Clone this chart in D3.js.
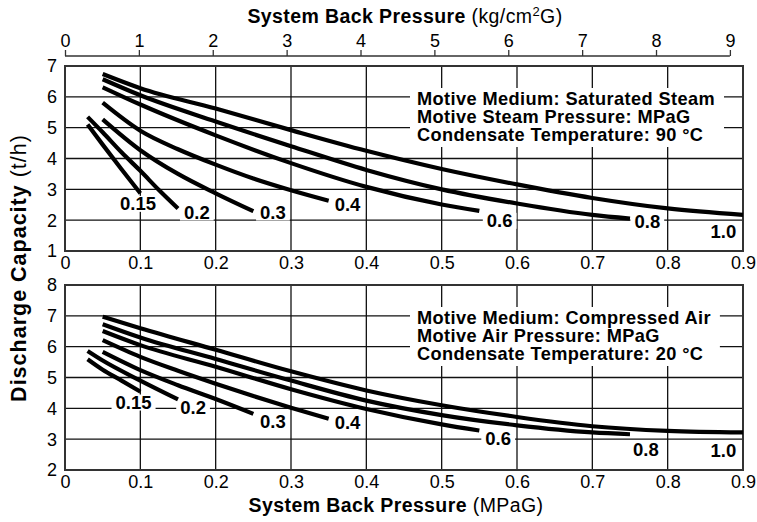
<!DOCTYPE html>
<html>
<head>
<meta charset="utf-8">
<script src="https://cdn.jsdelivr.net/npm/d3@7"></script>
<style>
  body { margin: 0; background: #fff; }
  svg { display: block; font-family: "Liberation Sans", Arial, sans-serif; }
</style>
</head>
<body>
<svg id="chart" width="757" height="522"></svg>
<script>
const width = 757;
const height = 522;

// back pressure ticks (MPaG) and the kg/cm2G ticks on top
const backPressureTicks = [0, 0.1, 0.2, 0.3, 0.4, 0.5, 0.6, 0.7, 0.8, 0.9];
const kgTicks = [0, 1, 2, 3, 4, 5, 6, 7, 8, 9];
const kgPerMPa = 1 / 0.0980665;

const motivePressures = ["0.15", "0.2", "0.3", "0.4", "0.6", "0.8", "1.0"];

// saturated steam, [back pressure MPaG, capacity t/h]
const steam015 = [[0.03, 5.10], [0.05, 4.45], [0.075, 3.65], [0.10, 2.87]];
const steam02 = [[0.03, 5.35], [0.05, 4.85], [0.075, 4.20], [0.10, 3.60], [0.125, 2.97], [0.15, 2.38]];
const steam03 = [[0.05, 5.27], [0.10, 4.27], [0.15, 3.50], [0.20, 2.87], [0.25, 2.29]];
const steam04 = [[0.05, 5.81], [0.10, 4.90], [0.15, 4.30], [0.20, 3.80], [0.25, 3.35], [0.30, 2.97], [0.35, 2.63]];
const steam06 = [[0.05, 6.31], [0.10, 5.75], [0.20, 4.75], [0.30, 3.85], [0.40, 3.08], [0.50, 2.51], [0.55, 2.30]];
const steam08 = [[0.05, 6.57], [0.10, 6.05], [0.20, 5.20], [0.30, 4.40], [0.40, 3.63], [0.50, 3.00], [0.60, 2.54], [0.70, 2.17], [0.75, 2.05]];
const steam10 = [[0.05, 6.74], [0.10, 6.28], [0.20, 5.62], [0.30, 4.92], [0.40, 4.25], [0.50, 3.66], [0.60, 3.16], [0.70, 2.72], [0.80, 2.38], [0.90, 2.17]];
// where the pressure labels sit (centre, data units)
const steamLabelAt = [[0.097, 2.55], [0.175, 2.27], [0.276, 2.27], [0.375, 2.52], [0.577, 2.0], [0.773, 1.97], [0.874, 1.64]];
const steamInfo = ["Motive Medium: Saturated Steam", "Motive Steam Pressure: MPaG", "Condensate Temperature: 90 \u00B0C"];

// compressed air
const air015 = [[0.03, 5.59], [0.05, 5.25], [0.075, 4.90], [0.10, 4.54]];
const air02 = [[0.03, 5.86], [0.05, 5.55], [0.10, 4.90], [0.15, 4.29]];
const air03 = [[0.05, 5.83], [0.10, 5.24], [0.15, 4.75], [0.20, 4.30], [0.25, 3.82]];
const air04 = [[0.05, 6.21], [0.10, 5.67], [0.15, 5.22], [0.20, 4.80], [0.25, 4.40], [0.30, 4.02], [0.35, 3.66]];
const air06 = [[0.05, 6.51], [0.10, 6.05], [0.20, 5.35], [0.30, 4.62], [0.40, 3.98], [0.50, 3.48], [0.55, 3.28]];
const air08 = [[0.05, 6.73], [0.10, 6.30], [0.20, 5.60], [0.30, 4.90], [0.40, 4.25], [0.50, 3.78], [0.60, 3.45], [0.70, 3.22], [0.75, 3.16]];
const air10 = [[0.05, 6.97], [0.10, 6.60], [0.20, 5.90], [0.30, 5.20], [0.40, 4.58], [0.50, 4.10], [0.60, 3.72], [0.70, 3.42], [0.80, 3.27], [0.90, 3.22]];
const airLabelAt = [[0.091, 4.21], [0.170, 4.03], [0.276, 3.59], [0.375, 3.56], [0.575, 3.02], [0.771, 2.66], [0.874, 2.64]];
const airInfo = ["Motive Medium: Compressed Air", "Motive Air Pressure: MPaG", "Condensate Temperature: 20 \u00B0C"];

const steamTicks = [1, 2, 3, 4, 5, 6, 7];
const airTicks = [2, 3, 4, 5, 6, 7, 8];

const svg = d3.select("#chart");
const x = d3.scaleLinear().domain([0, 0.9]).range([65, 743]);
const xKg = d3.scaleLinear().domain([0, 0.9 * kgPerMPa]).range([65, 743]);

const line = (y) => d3.line()
  .x(d => x(d[0]))
  .y(d => y(d[1]))
  .curve(d3.curveMonotoneX);

function drawPanel(top, bottom, yTicks, curves, labelAt, info) {
  const y = d3.scaleLinear().domain(d3.extent(yTicks)).range([bottom, top]);
  const g = svg.append("g");

  // grid
  g.append("g").selectAll("line")
    .data(backPressureTicks.slice(1, -1))
    .join("line")
      .attr("x1", d => x(d)).attr("x2", d => x(d))
      .attr("y1", top).attr("y2", bottom)
      .attr("stroke", "#111").attr("stroke-width", 1.3);
  g.append("g").selectAll("line")
    .data(yTicks.slice(1, -1))
    .join("line")
      .attr("x1", x(0)).attr("x2", x(0.9))
      .attr("y1", d => y(d)).attr("y2", d => y(d))
      .attr("stroke", "#111").attr("stroke-width", 1.3);

  // y tick labels
  g.append("g").selectAll("text")
    .data(yTicks)
    .join("text")
      .attr("x", 57).attr("y", d => y(d))
      .attr("dy", "0.36em")
      .attr("text-anchor", "end")
      .attr("font-size", 18)
      .text(d => d);

  // x tick labels
  const xAxis = d3.axisBottom(x)
    .tickValues(backPressureTicks)
    .tickSize(0)
    .tickPadding(5)
    .tickFormat(d => d === 0 ? "0" : d3.format(".1f")(d));
  const ax = g.append("g")
    .attr("transform", `translate(0,${bottom})`)
    .call(xAxis);
  ax.select(".domain").remove();
  ax.selectAll("text").attr("font-size", 18).attr("font-family", null).attr("fill", "#000");

  // info box
  const infoG = g.append("g");
  const infoText = infoG.append("text")
    .attr("font-size", 18.2)
    .attr("font-weight", "bold")
    .attr("letter-spacing", 0.4);
  infoText.selectAll("tspan")
    .data(info)
    .join("tspan")
      .attr("x", 417)
      .attr("y", (d, i) => top + 39 + i * 18)
      .text(d => d);
  const ib = infoText.node().getBBox();
  infoG.insert("rect", () => infoText.node())
    .attr("x", ib.x - 7).attr("y", ib.y - 1)
    .attr("width", ib.width + 16).attr("height", ib.height + 3)
    .attr("fill", "#fff");

  // pressure labels with white backing
  const labels = g.append("g");
  motivePressures.forEach((p, i) => {
    const t = labels.append("text")
      .attr("x", x(labelAt[i][0])).attr("y", y(labelAt[i][1]))
      .attr("dy", "0.36em")
      .attr("text-anchor", "middle")
      .attr("font-size", 18.5)
      .attr("font-weight", "bold")
      .text(p);
    const b = t.node().getBBox();
    labels.insert("rect", () => t.node())
      .attr("x", b.x - 4).attr("y", b.y + 3)
      .attr("width", b.width + 8).attr("height", b.height - 5)
      .attr("fill", "#fff");
  });

  // frame
  g.append("rect")
    .attr("x", x(0)).attr("y", top)
    .attr("width", x(0.9) - x(0)).attr("height", bottom - top)
    .attr("fill", "none").attr("stroke", "#333").attr("stroke-width", 2);

  // curves
  g.append("g").selectAll("path")
    .data(curves)
    .join("path")
      .attr("d", line(y))
      .attr("fill", "none")
      .attr("stroke", "#000")
      .attr("stroke-width", 4.2);
}

drawPanel(66, 251, steamTicks,
  [steam015, steam02, steam03, steam04, steam06, steam08, steam10], steamLabelAt, steamInfo);
drawPanel(285, 470, airTicks,
  [air015, air02, air03, air04, air06, air08, air10], airLabelAt, airInfo);

// top axis in kg/cm2G
const topAxis = d3.axisTop(xKg)
  .tickValues(kgTicks)
  .tickSize(6)
  .tickSizeOuter(0)
  .tickPadding(3);
const ta = svg.append("g")
  .attr("transform", "translate(0,56)")
  .call(topAxis);
ta.select(".domain").remove();
ta.append("line")
  .attr("x1", xKg(0)).attr("x2", xKg(9))
  .attr("stroke", "#333").attr("stroke-width", 1.5);
ta.selectAll(".tick line").attr("stroke", "#333").attr("stroke-width", 1.3);
ta.selectAll("text").attr("font-size", 18).attr("font-family", null).attr("fill", "#000");

// axis titles
const topTitle = svg.append("text")
  .attr("x", 405).attr("y", 23)
  .attr("text-anchor", "middle")
  .attr("font-size", 19.5)
  .attr("letter-spacing", 0.4);
topTitle.append("tspan").attr("font-weight", "bold").text("System Back Pressure ");
topTitle.append("tspan").text("(kg/cm");
topTitle.append("tspan").attr("font-size", 13).attr("dy", -7).text("2");
topTitle.append("tspan").attr("dy", 7).text("G)");

const bottomTitle = svg.append("text")
  .attr("x", 396).attr("y", 512)
  .attr("text-anchor", "middle")
  .attr("font-size", 19.5)
  .attr("letter-spacing", 0.4);
bottomTitle.append("tspan").attr("font-weight", "bold").text("System Back Pressure ");
bottomTitle.append("tspan").text("(MPaG)");

const yTitle = svg.append("text")
  .attr("transform", "translate(26,268) rotate(-90)")
  .attr("text-anchor", "middle")
  .attr("font-size", 21.5)
  .attr("letter-spacing", 1);
yTitle.append("tspan").attr("font-weight", "bold").text("Discharge Capacity ");
yTitle.append("tspan").text("(t/h)");
</script>
</body>
</html>
